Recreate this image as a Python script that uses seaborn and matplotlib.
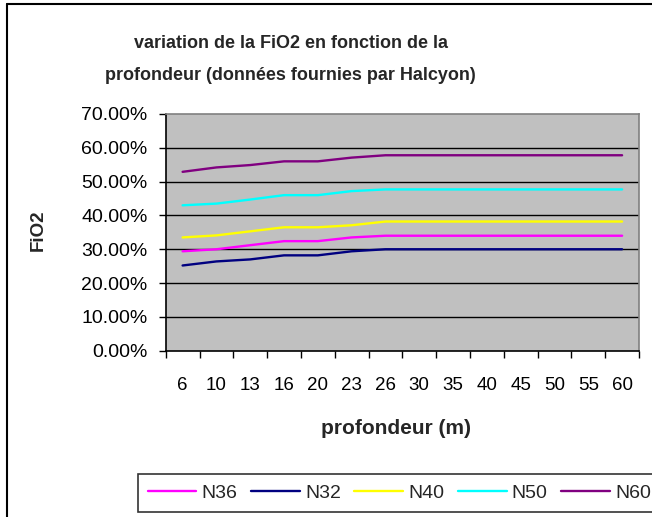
import matplotlib
matplotlib.use("Agg")
import matplotlib.pyplot as plt
from matplotlib.ticker import FixedLocator, FuncFormatter, NullFormatter
from matplotlib.lines import Line2D
import numpy as np
import pandas as pd
import seaborn as sns

# Depth (m) and FiO2 per nitrox mix
depths = [6, 10, 13, 16, 20, 23, 26, 30, 35, 40, 45, 50, 55, 60]
n36 = [0.294, 0.300, 0.312, 0.324, 0.324, 0.335, 0.340, 0.340, 0.340, 0.340, 0.340, 0.340, 0.340, 0.340]
n32 = [0.252, 0.264, 0.270, 0.282, 0.282, 0.294, 0.300, 0.300, 0.300, 0.300, 0.300, 0.300, 0.300, 0.300]
n40 = [0.335, 0.341, 0.353, 0.365, 0.365, 0.371, 0.382, 0.382, 0.382, 0.382, 0.382, 0.382, 0.382, 0.382]
n50 = [0.430, 0.435, 0.447, 0.460, 0.460, 0.472, 0.477, 0.477, 0.477, 0.477, 0.477, 0.477, 0.477, 0.477]
n60 = [0.529, 0.542, 0.549, 0.560, 0.560, 0.571, 0.578, 0.578, 0.578, 0.578, 0.578, 0.578, 0.578, 0.578]

series_names = ["N36", "N32", "N40", "N50", "N60"]
series_values = [n36, n32, n40, n50, n60]
palette = {"N36": "#FF00FF", "N32": "#000080", "N40": "#FFFF00",
           "N50": "#00FFFF", "N60": "#800080"}

rows = []
for name, vals in zip(series_names, series_values):
    for i, (d, v) in enumerate(zip(depths, vals)):
        rows.append({"pos": i, "profondeur": d, "FiO2": v, "mix": name})
df = pd.DataFrame(rows)

sns.set_theme(style="white")
plt.rcParams["font.family"] = ["Liberation Sans", "DejaVu Sans"]

W, H = 652, 517
fig = plt.figure(figsize=(W / 100, H / 100), dpi=100)
fig.patch.set_facecolor("white")

x0, x1, y0, y1 = 165.7, 639.0, 114.0, 350.7
ax = fig.add_axes([x0 / W, 1 - y1 / H, (x1 - x0) / W, (y1 - y0) / H])
ax.set_facecolor("#C0C0C0")

sns.lineplot(data=df, x="pos", y="FiO2", hue="mix", hue_order=series_names,
             palette=palette, linewidth=1.7, ax=ax, legend=False)

n = len(depths)
ax.set_xlim(-0.5, n - 0.5)
ax.set_ylim(0, 0.70)

# category boundaries carry the tick marks, labels sit at category centres
ax.xaxis.set_major_locator(FixedLocator(np.arange(-0.5, n, 1.0)))
ax.xaxis.set_major_formatter(NullFormatter())
ax.xaxis.set_minor_locator(FixedLocator(np.arange(n)))
ax.xaxis.set_minor_formatter(FuncFormatter(lambda x, p: str(depths[int(round(x))])))
ax.tick_params(axis="x", which="major", direction="out", length=5, width=1, color="black", bottom=True)
ax.tick_params(axis="x", which="minor", length=0, labelsize=13.5, pad=19, labelcolor="black", bottom=True)

yt = np.arange(0, 0.71, 0.10)
ax.set_yticks(yt)
ax.set_yticklabels([f"{v * 100:.2f}%" for v in yt])
ax.tick_params(axis="y", direction="out", length=5, width=1, color="black", left=True,
               labelsize=14, pad=8, labelcolor="black")

for v in yt[1:-1]:
    ax.axhline(v, color="black", linewidth=1.0, zorder=1)

for s in ["left", "bottom"]:
    ax.spines[s].set_color("black")
    ax.spines[s].set_linewidth(1.2)
for s in ["top", "right"]:
    ax.spines[s].set_color("#808080")
    ax.spines[s].set_linewidth(1.2)

ax.set_xlabel("profondeur (m)", fontsize=15, fontweight="bold", va="center")
ax.xaxis.set_label_coords((396 - x0) / (x1 - x0), (y1 - 428) / (y1 - y0))
ax.set_ylabel("FiO2", fontsize=13.5, fontweight="bold", va="center")
ax.yaxis.set_label_coords((38 - x0) / (x1 - x0), (y1 - 230) / (y1 - y0))

fig.text(291 / W, 1 - 44 / H, "variation de la FiO2 en fonction de la",
         ha="center", va="center", fontsize=13, fontweight="bold")
fig.text(290 / W, 1 - 75 / H, "profondeur (données fournies par Halcyon)",
         ha="center", va="center", fontsize=13, fontweight="bold")

handles = [Line2D([0], [0], color=palette[nm], linewidth=1.7) for nm in series_names]
leg = fig.legend(handles, series_names, loc="center left",
                 bbox_to_anchor=(138 / W, 1 - 493 / H), ncol=5, fontsize=14,
                 frameon=True, fancybox=False, handlelength=2.5, handletextpad=0.27,
                 columnspacing=0.7, borderpad=0.5, borderaxespad=0)
leg.get_frame().set_edgecolor("black")
leg.get_frame().set_linewidth(1.2)

# chart border
fig.add_artist(Line2D([7 / W, 7 / W], [0, 1 - 4 / H], color="black", linewidth=1.5,
                      transform=fig.transFigure))
fig.add_artist(Line2D([7 / W, 1], [1 - 4 / H, 1 - 4 / H], color="black", linewidth=1.5,
                      transform=fig.transFigure))

fig.savefig("out.png", dpi=100)
